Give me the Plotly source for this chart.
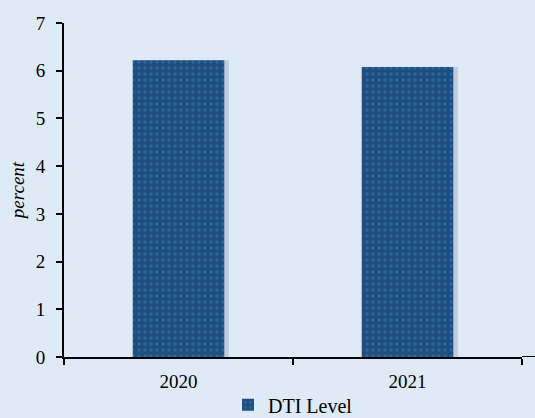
import plotly.graph_objects as go

categories = ["2020", "2021"]
dti_level = [6.22, 6.08]
series_name = "DTI Level"

bg = "#DEEAF6"
serif = "Liberation Serif, Times New Roman, serif"
fig = go.Figure()
# soft shadow behind the bars
fig.add_trace(go.Bar(
    x=categories, y=dti_level, width=0.4, offset=-0.18, showlegend=False, hoverinfo="skip",
    marker=dict(color="rgba(60,70,90,0.18)", line=dict(width=0)),
))
fig.add_trace(go.Bar(
    x=categories, y=dti_level, name=series_name, width=0.4, offset=-0.2,
    marker=dict(color="#1F4E7D", line=dict(width=0),
                pattern=dict(shape=".", fgcolor="#3A7CC4", bgcolor="#1F4E7D", size=6, solidity=0.25)),
))
fig.update_layout(
    width=535, height=418,
    margin=dict(l=64, r=13, t=23, b=61, autoexpand=False),
    paper_bgcolor=bg, plot_bgcolor=bg,
    font=dict(family=serif, size=20, color="black"),
    showlegend=True, barmode="overlay",
    legend=dict(orientation="h", x=0.5, xanchor="center", y=-0.143, yanchor="middle",
                font=dict(family=serif, size=20), itemwidth=30, tracegroupgap=0),
)
fig.update_yaxes(range=[0, 7], dtick=1, showgrid=False, zeroline=False,
                 showline=True, linecolor="black", linewidth=2,
                 ticks="outside", ticklen=6, tickcolor="black", tickwidth=1.5,
                 tickfont=dict(family=serif, size=19), ticklabelstandoff=7,
                 title=dict(text="<i>percent</i>", standoff=6, font=dict(family=serif, size=19)))
fig.update_xaxes(showgrid=False, showline=True, linecolor="black", linewidth=2,
                 ticks="outside", ticklen=6, tickcolor="black", tickwidth=1.5,
                 tickfont=dict(family=serif, size=19), ticklabelstandoff=6,
                 tickson="boundaries")
fig.add_shape(type="line", xref="paper", yref="y", x0=1, x1=1.03, y0=0, y1=0,
              line=dict(color="black", width=2))
fig.write_html("out.html", config={"displayModeBar": False},
               post_script="document.body.style.margin='0';document.body.style.background='#DEEAF6';")
